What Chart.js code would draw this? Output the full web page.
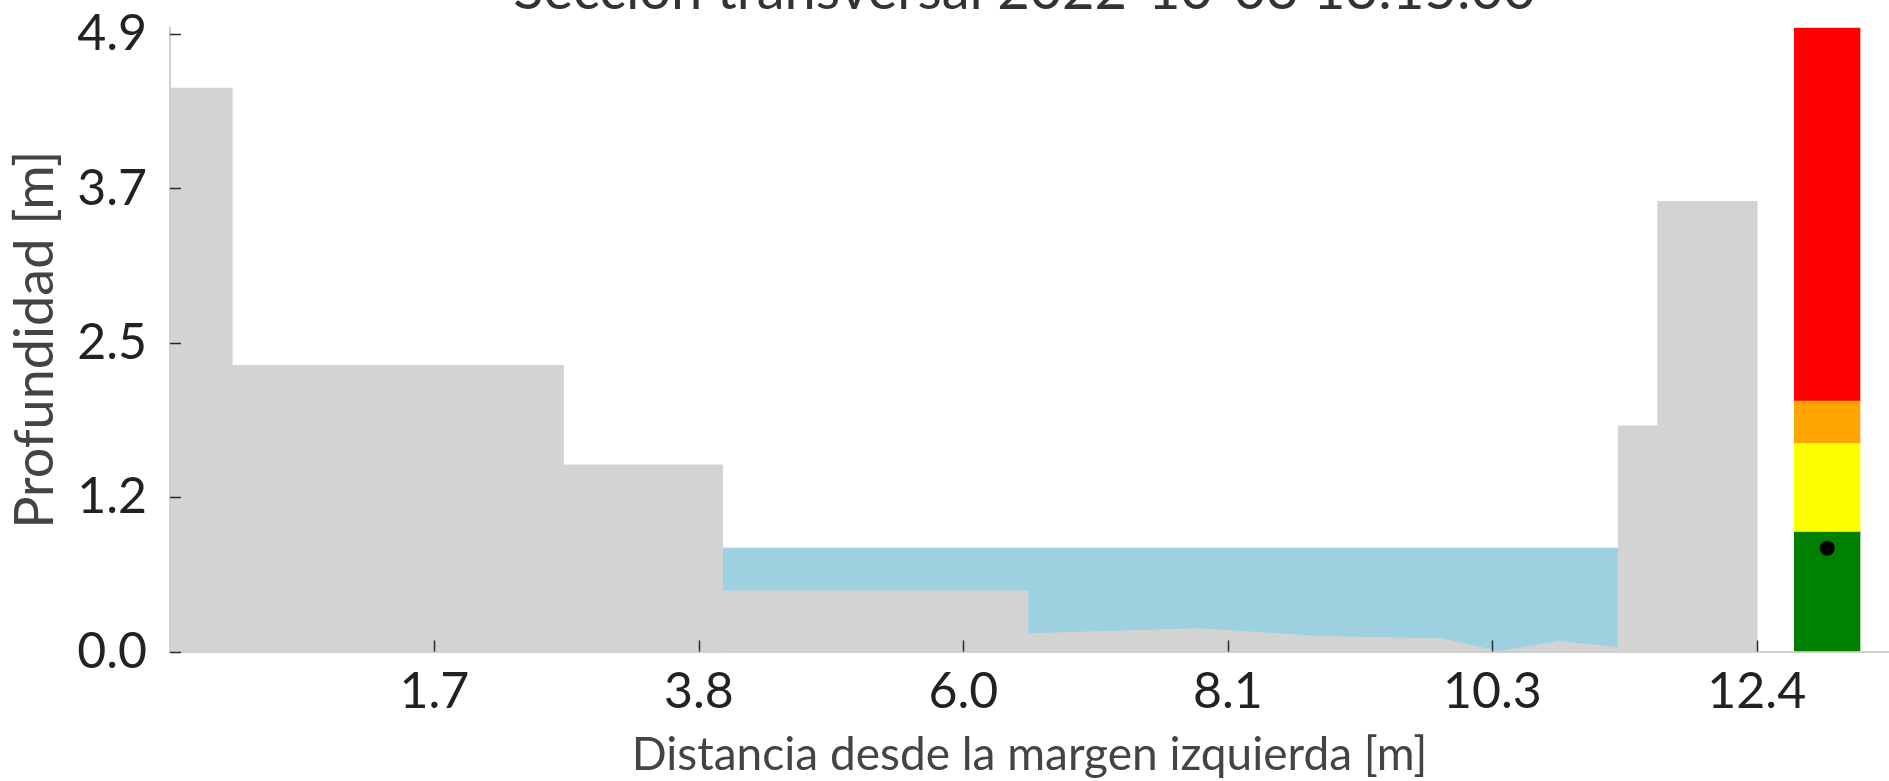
<!DOCTYPE html>
<html>
<head>
<meta charset="utf-8">
<script src="https://cdn.jsdelivr.net/npm/chart.js@4.4.1/dist/chart.umd.min.js"></script>
<style>
html,body{margin:0;padding:0;background:#ffffff;overflow:hidden}
#wrap{width:1889px;height:781px;position:relative}
</style>
</head>
<body>
<div id="wrap"><canvas id="c" width="1889" height="781"></canvas></div>
<script>
// ---- text ----
const chartTitle = 'Sección transversal 2022-10-03 13:15:00';
const xAxisTitle = 'Distancia desde la margen izquierda [m]';
const yAxisTitle = 'Profundidad [m]';

// ---- ticks ----
const xTickValues = [1.7, 3.84, 5.98, 8.12, 10.26, 12.4];
const xTickLabels = ['1.7', '3.8', '6.0', '8.1', '10.3', '12.4'];
const yTickValues = [0, 1.225, 2.45, 3.675, 4.9];
const yTickLabels = ['0.0', '1.2', '2.5', '3.7', '4.9'];
const xRange = [-0.44, 13.47];
const yRange = [0, 4.95];

// ---- cross-section profile (distance, height) ----
const bedX = [-0.44, 0.06, 0.06, 2.74, 2.74, 4.03, 4.03, 6.50, 6.50, 7.88, 8.86, 9.85, 10.31, 10.80, 11.28, 11.28, 11.60, 11.60, 12.40, 12.40];
const bedY = [4.47, 4.47, 2.27, 2.27, 1.48, 1.48, 0.48, 0.48, 0.14, 0.18, 0.12, 0.10, 0.00, 0.08, 0.03, 1.79, 1.79, 3.57, 3.57, 0.00];

// ---- water ----
const waterX = [4.03, 11.28];
const waterLevel = 0.82;

// ---- alert gauge ----
const gaugeX = [12.70, 13.24];
const gaugeBounds = [0, 0.95, 1.655, 1.99, 4.95];
const gaugeColors = ['#008000', '#ffff00', '#ffa500', '#ff0000'];
const currentLevelX = 12.97;
const currentLevel = 0.82;

// ---- colours ----
const groundColor = '#d3d3d3';
const waterColor = '#9ed1e0';

const FONT = 'Lato';

const dotDataset = {
  label: 'nivel',
  data: [{x: currentLevelX, y: currentLevel}],
  showLine: false,
  pointRadius: 7.5,
  pointBackgroundColor: '#000000',
  pointBorderWidth: 0,
  pointBorderColor: '#000000'
};

const gaugeDatasets = gaugeColors.map((col, i) => ({
  label: 'nivel alerta ' + i,
  data: gaugeX.map(x => ({x: x, y: gaugeBounds[i + 1]})),
  fill: {value: gaugeBounds[i]},
  backgroundColor: col,
  borderColor: col,
  borderWidth: 1,
  pointRadius: 0,
  tension: 0
})).reverse();

const bedDataset = {
  label: 'perfil',
  data: bedX.map((x, i) => ({x: x, y: bedY[i]})),
  fill: 'origin',
  backgroundColor: groundColor,
  borderColor: groundColor,
  borderWidth: 1,
  pointRadius: 0,
  tension: 0
};

const waterDataset = {
  label: 'agua',
  data: waterX.map(x => ({x: x, y: waterLevel})),
  fill: 'origin',
  backgroundColor: waterColor,
  borderColor: waterColor,
  borderWidth: 1,
  pointRadius: 0,
  tension: 0
};

const innerTicks = {
  id: 'innerTicks',
  afterDatasetsDraw(chart) {
    const {ctx, chartArea, scales} = chart;
    const xs = scales.x, ys = scales.y;
    ctx.save();
    ctx.strokeStyle = '#2a2a2a';
    ctx.lineWidth = 1.5;
    ctx.beginPath();
    xs.ticks.forEach(t => {
      const px = Math.round(xs.getPixelForValue(t.value)) + 0.5;
      ctx.moveTo(px, chartArea.bottom);
      ctx.lineTo(px, chartArea.bottom - 11);
    });
    ys.ticks.forEach(t => {
      const py = Math.round(ys.getPixelForValue(t.value)) + 0.5;
      ctx.moveTo(chartArea.left, py);
      ctx.lineTo(chartArea.left + 11, py);
    });
    ctx.stroke();
    ctx.restore();
  }
};

// title drawn as text at the top edge (partly above the canvas, as in the source)
const topTitle = {
  id: 'topTitle',
  afterDraw(chart) {
    const {ctx, chartArea} = chart;
    ctx.save();
    ctx.font = '56px ' + FONT;
    ctx.fillStyle = '#333333';
    ctx.textAlign = 'center';
    ctx.textBaseline = 'alphabetic';
    ctx.fillText(chartTitle, (chartArea.left + chartArea.right) / 2 - 5, 8.5);
    ctx.restore();
  }
};

new Chart(document.getElementById('c'), {
  type: 'line',
  data: {datasets: [dotDataset, ...gaugeDatasets, bedDataset, waterDataset]},
  options: {
    responsive: false,
    devicePixelRatio: 1,
    animation: false,
    events: [],
    layout: {autoPadding: false, padding: {left: 0, right: 0, top: 27.7, bottom: 0}},
    plugins: {
      legend: {display: false},
      tooltip: {enabled: false},
      title: {display: false}
    },
    scales: {
      x: {
        type: 'linear',
        min: xRange[0],
        max: xRange[1],
        z: 1,
        grid: {display: false},
        border: {display: true, color: '#cfcfcf', width: 2},
        afterBuildTicks: s => { s.ticks = xTickValues.map(v => ({value: v})); },
        afterFit: s => { s.height = 129.5; s.paddingLeft = 0; s.paddingRight = 0; },
        ticks: {
          autoSkip: false,
          maxRotation: 0,
          padding: 7,
          color: '#222222',
          font: {family: FONT, size: 50, lineHeight: 1},
          callback: (v, i) => xTickLabels[i]
        },
        title: {
          display: true,
          text: xAxisTitle,
          color: '#444444',
          font: {family: FONT, size: 46, lineHeight: 1.2},
          padding: {top: 0, bottom: -2}
        }
      },
      y: {
        type: 'linear',
        min: yRange[0],
        max: yRange[1],
        z: 1,
        grid: {display: false},
        border: {display: true, color: '#cfcfcf', width: 2},
        afterBuildTicks: s => { s.ticks = yTickValues.map(v => ({value: v})); },
        afterFit: s => { s.width = 170; s.paddingTop = 0; s.paddingBottom = 0; },
        ticks: {
          autoSkip: false,
          padding: 15,
          color: '#222222',
          font: {family: FONT, size: 50, lineHeight: 1},
          callback: (v, i) => yTickLabels[i]
        },
        title: {
          display: true,
          text: yAxisTitle,
          color: '#444444',
          font: {family: FONT, size: 54, lineHeight: 1.2},
          padding: {top: 3.5, bottom: 0}
        }
      }
    }
  },
  plugins: [innerTicks, topTitle]
});
</script>
</body>
</html>
